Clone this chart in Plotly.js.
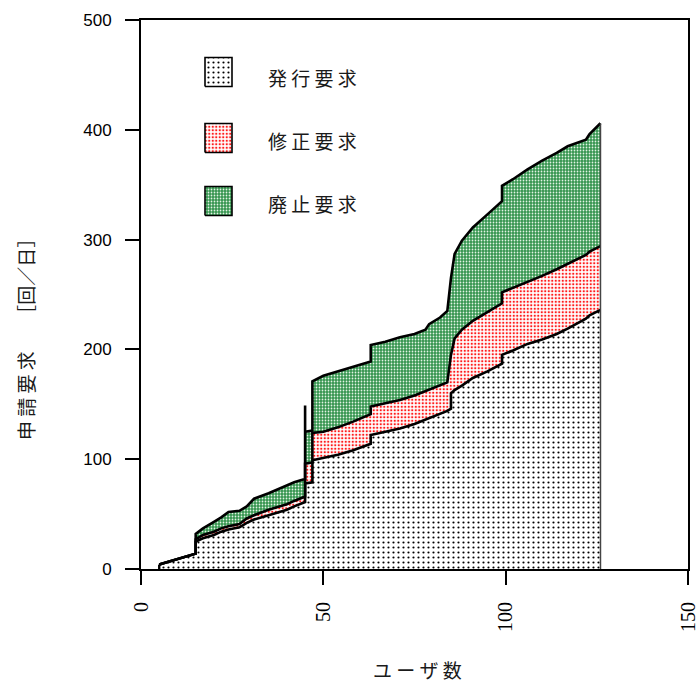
<!DOCTYPE html>
<html>
<head>
<meta charset="utf-8">
<script src="https://cdn.plot.ly/plotly-3.0.1.min.js"></script>
<style>
  html, body { margin: 0; padding: 0; background: #fff; }
  #chart { width: 700px; height: 687px; }
</style>
</head>
<body>
<div id="chart"></div>
<script>
// Number of users (x); repeated values mark a step at that user count
const users = [5, 15, 15, 17, 20, 22, 24, 27, 29, 31, 35, 37, 40, 42, 44, 45, 45, 45, 47, 47,
  50, 54, 58, 63, 63, 67, 71, 75, 78, 79, 82, 84, 85, 85, 86, 88, 91, 95, 99, 99,
  102, 106, 110, 114, 117, 122, 123, 126];

// Requests per day for each request type
const issueRequests = [4, 14, 25, 28, 31, 34, 36, 38, 42, 45, 49, 51, 54, 57, 60, 61, 61, 78, 79, 99,
  101, 104, 108, 114, 122, 125, 128, 132, 136, 137, 141, 144, 146, 160, 163, 167, 174, 180, 187, 195,
  199, 205, 209, 214, 219, 228, 231, 236];
const reviseRequests = [0, 0, 2, 3, 3, 3, 3, 3, 4, 4, 5, 5, 5, 5, 5, 5, 5, 18, 18, 25,
  24, 25, 26, 27, 26, 26, 26, 26, 26, 26, 26, 26, 49, 35, 47, 51, 52, 54, 55, 57,
  57, 56, 58, 59, 59, 58, 58, 58];
const retireRequests = [0, 0, 5, 6, 9, 10, 13, 12, 11, 15, 15, 16, 17, 17, 16, 16, 83, 29, 29, 47,
  51, 51, 50, 48, 56, 56, 57, 56, 56, 60, 62, 65, 70, 70, 77, 81, 85, 89, 93, 97,
  99, 103, 105, 106, 107, 105, 107, 112];

const seriesNames = ['発行要求', '修正要求', '廃止要求'];
const xTicks = [0, 50, 100, 150];
const xTitle = 'ユーザ数';
const yTitle = '申請要求';
const yUnit = '［回／日］';

// ---- styling ----
const patterns = [
  { shape: '.', bgcolor: '#ffffff', fgcolor: '#000000', size: 5, solidity: 0.15 },
  { shape: '.', bgcolor: '#ffffff', fgcolor: '#ff1a1a', size: 3.5, solidity: 0.33 },
  { shape: '.', bgcolor: '#34944e', fgcolor: '#e2f4e5', size: 3, solidity: 0.27 }
];
const cjkFont = '"Noto Sans CJK JP", "Noto Sans", sans-serif';
const spaced = s => Array.from(s).join(' ');

// stacked totals
const level1 = issueRequests.slice();
const level2 = level1.map((v, i) => v + reviseRequests[i]);
const level3 = level2.map((v, i) => v + retireRequests[i]);
const levels = [level1, level2, level3];

const traces = levels.map((lv, k) => ({
  type: 'scatter',
  mode: 'lines',
  name: seriesNames[k],
  x: users,
  y: lv,
  fill: k === 0 ? 'tozeroy' : 'tonexty',
  fillcolor: patterns[k].bgcolor,
  fillpattern: patterns[k],
  line: { color: '#000', width: 2.6, shape: 'linear' },
  showlegend: false,
  hoverinfo: 'x+y'
}));

// closing edges at the first and last user count
const n = users.length;
traces.push({
  type: 'scatter', mode: 'lines', showlegend: false, hoverinfo: 'skip',
  x: [users[0], users[0]], y: [0, level3[0]],
  line: { color: '#000', width: 2.4 }
});
traces.push({
  type: 'scatter', mode: 'lines', showlegend: false, hoverinfo: 'skip',
  x: [users[n - 1], users[n - 1]], y: [0, level3[n - 1]],
  line: { color: '#444', width: 1.5 }
});

// ---- key (swatches + labels) placed in pixel terms inside the plot area ----
const M = { l: 141, r: 12, t: 20, b: 118 };
const W = 700 - M.l - M.r, H = 687 - M.t - M.b;
const fx = px => (px - M.l) / W;
const fy = py => (687 - M.b - py) / H;

const keyLeft = 205, keyRight = 232, keyHalf = 14.5;
const keyRows = [72, 138, 201];
const keyTextX = 266, keyTextRows = [77, 140, 204];

keyRows.forEach((cy, k) => {
  const x0 = fx(keyLeft), x1 = fx(keyRight), y0 = fy(cy + keyHalf), y1 = fy(cy - keyHalf);
  traces.push({
    type: 'scatter', mode: 'lines', xaxis: 'x2', yaxis: 'y2',
    x: [x0, x1, x1, x0, x0], y: [y0, y0, y1, y1, y0],
    fill: 'toself', fillcolor: patterns[k].bgcolor, fillpattern: patterns[k],
    line: { color: '#000', width: 1.6 }, showlegend: false, hoverinfo: 'skip'
  });
});

const annotations = keyTextRows.map((cy, k) => ({
  xref: 'paper', yref: 'paper', x: fx(keyTextX), y: fy(cy),
  xanchor: 'left', yanchor: 'middle', showarrow: false,
  text: spaced(seriesNames[k]),
  font: { family: cjkFont, size: 19, color: '#1a1a1a' }
}));

annotations.push({
  xref: 'paper', yref: 'paper', x: fx(418), y: fy(669),
  xanchor: 'center', yanchor: 'middle', showarrow: false,
  text: spaced(xTitle),
  font: { family: cjkFont, size: 19, color: '#1a1a1a' }
});
annotations.push({
  xref: 'paper', yref: 'paper', x: fx(25), y: fy(335),
  xanchor: 'center', yanchor: 'middle', showarrow: false, textangle: -90,
  text: spaced(yTitle) + '\u3000\u00a0\u00a0' + yUnit,
  font: { family: cjkFont, size: 19, color: '#1a1a1a' }
});

const layout = {
  width: 700, height: 687,
  margin: M,
  paper_bgcolor: '#fff', plot_bgcolor: '#fff',
  font: { family: '"Liberation Sans", Arial, sans-serif', color: '#000' },
  showlegend: false,
  xaxis: {
    range: [0, 150], tickvals: xTicks, ticktext: xTicks.map(String),
    ticks: 'outside', ticklen: 14, tickwidth: 2, tickcolor: '#000',
    tickangle: -90, ticklabelstandoff: 9,
    tickfont: { family: '"Liberation Serif", "DejaVu Serif", serif', size: 20, color: '#000' },
    showline: true, linecolor: '#000', linewidth: 2, mirror: true,
    showgrid: false, zeroline: false, fixedrange: true
  },
  yaxis: {
    range: [0, 500], dtick: 100,
    ticks: 'outside', ticklen: 14, tickwidth: 2, tickcolor: '#000',
    ticklabelstandoff: 10,
    tickfont: { family: '"Liberation Sans", Arial, sans-serif', size: 17, color: '#000' },
    showline: true, linecolor: '#000', linewidth: 2, mirror: true,
    showgrid: false, zeroline: false, fixedrange: true
  },
  xaxis2: { overlaying: 'x', anchor: 'y2', range: [0, 1], visible: false, fixedrange: true },
  yaxis2: { overlaying: 'y', anchor: 'x2', range: [0, 1], visible: false, fixedrange: true },
  annotations: annotations
};

Plotly.newPlot('chart', traces, layout, { staticPlot: true, displayModeBar: false });
</script>
</body>
</html>
